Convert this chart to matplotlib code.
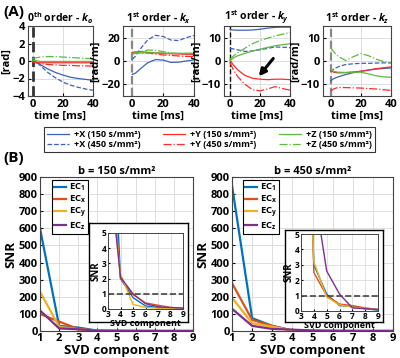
import matplotlib
matplotlib.use('Agg')
import matplotlib.pyplot as plt

plt.rcParams['font.family'] = ['Open Sans', 'DejaVu Sans']
plt.rcParams['font.weight'] = 'bold'
plt.rcParams['axes.labelweight'] = 'bold'
plt.rcParams['axes.titleweight'] = 'bold'
plt.rcParams['mathtext.fontset'] = 'custom'
plt.rcParams['mathtext.rm'] = 'Open Sans:bold'
plt.rcParams['mathtext.bf'] = 'Open Sans:bold'
plt.rcParams['mathtext.it'] = 'Open Sans:bold:italic'
plt.rcParams['xtick.direction'] = 'in'
plt.rcParams['ytick.direction'] = 'in'

# ---- panel A data (time in ms) ----
t = [0, 2, 5, 10, 15, 20, 25, 30, 35, 40]

k0_x150 = [0.1, -0.1, -0.4, -0.9, -1.3, -1.6, -1.85, -2.0, -2.1, -2.2]
k0_x450 = [0.3, 0.0, -0.5, -1.3, -1.9, -2.4, -2.75, -3.0, -3.2, -3.35]
k0_y150 = [-0.05, -0.15, -0.2, -0.2, -0.2, -0.2, -0.2, -0.2, -0.2, -0.2]
k0_y450 = [-0.1, -0.2, -0.3, -0.4, -0.45, -0.5, -0.5, -0.55, -0.55, -0.6]
k0_z150 = [0.1, 0.05, -0.05, -0.05, -0.05, -0.05, -0.05, -0.05, -0.05, -0.05]
k0_z450 = [0.3, 0.35, 0.45, 0.5, 0.5, 0.45, 0.4, 0.35, 0.3, 0.25]

kx_x150 = [-11.5, -10.5, -7, -1.5, 1.2, 0.8, -1.2, -1.0, 0.0, 0.9]
kx_x450 = [1.5, 4, 10, 18, 22, 21, 18, 17.5, 20, 22]
kx_y150 = [7.4, 7.8, 8, 7.5, 7, 6.5, 6.2, 6, 5.8, 5.7]
kx_y450 = [6.6, 6.8, 7, 6.8, 6, 5.2, 4.8, 4.3, 4, 3.7]
kx_z150 = [6.6, 6.8, 7, 7, 7, 6.8, 6.7, 6.6, 6.6, 6.6]
kx_z450 = [5.7, 6.5, 8, 9.4, 9.2, 8, 6.8, 6.4, 6.5, 6.6]

ky_x150 = [13.5, 13.3, 13.2, 13.2, 13.3, 13.6, 14.1, 14.4, 14.5, 14.5]
ky_x450 = [5.4, 5.2, 4.8, 4.1, 4.3, 4.8, 5.4, 6.0, 5.9, 5.7]
ky_y150 = [0.4, -1.5, -3.7, -6.2, -7.4, -7.8, -8.0, -7.8, -7.8, -8.0]
ky_y450 = [-0.7, -3.5, -6.6, -10, -12.3, -12.8, -12.0, -11.0, -11.8, -12.5]
ky_z150 = [0.0, 1.2, 2.2, 3.3, 4.3, 5.1, 5.8, 6.5, 7.0, 7.4]
ky_z450 = [0.7, 2.0, 3.5, 5.5, 7.4, 8.8, 9.8, 10.7, 11.5, 12.2]

kz_x150 = [-8.5, -7.6, -6.8, -5.8, -5.0, -4.4, -3.9, -3.5, -3.2, -3.0]
kz_x450 = [-4.8, -3.5, -2.5, -1.5, -1.2, -1.0, -1.0, -0.9, -0.8, -0.8]
kz_y150 = [-4.0, -4.8, -5.1, -5.0, -4.7, -4.4, -3.9, -3.3, -2.9, -2.5]
kz_y450 = [-13, -12, -11.3, -11.4, -11.5, -11.6, -11.8, -12.0, -12.3, -12.6]
kz_z150 = [-3.8, -4.4, -4.8, -4.9, -4.8, -4.8, -5.5, -6.3, -6.8, -7.0]
kz_z450 = [5.7, 4.0, 2.0, 0.2, 1.8, 3.2, 2.3, 0.8, -0.2, -0.8]

# ---- panel B data ----
svd = [1, 2, 3, 4, 5, 6, 7, 8, 9]
b150_ec1 = [600, 30, 20, 2.0, 0.75, 0.2, 0.1, 0.05, 0.05]
b150_ecx = [100, 55, 12, 2.0, 0.95, 0.4, 0.25, 0.1, 0.05]
b150_ecy = [230, 25, 10, 2.3, 0.3, 0.1, 0.05, 0.05, 0.03]
b150_ecz = [120, 15, 10, 2.1, 1.0, 0.35, 0.15, 0.1, 0.05]

b450_ec1 = [850, 75, 30, 3.0, 1.1, 0.35, 0.3, 0.15, 0.05]
b450_ecx = [280, 65, 30, 2.5, 1.0, 0.45, 0.35, 0.2, 0.1]
b450_ecy = [195, 45, 25, 3.2, 0.9, 0.4, 0.25, 0.15, 0.1]
b450_ecz = [130, 30, 12, 8.0, 2.6, 1.1, 0.2, 0.15, 0.1]

blue, red, green = '#3F5FBF', '#FF2A2A', '#5DBB3F'
ec_colors = ['#0072BD', '#D95319', '#EDB120', '#7E2F8E']
ec_labels = ['EC$_1$', 'EC$_\\mathrm{x}$', 'EC$_\\mathrm{y}$', 'EC$_\\mathrm{z}$']

fig = plt.figure(figsize=(4.0, 3.58), dpi=100)

W, H = 400.0, 358.0
def pos(x0, y0, x1, y1):
    return [x0 / W, 1 - y1 / H, (x1 - x0) / W, (y1 - y0) / H]

top_pos = [pos(28, 26, 93, 96), pos(123, 26, 194, 96),
           pos(224, 26, 290, 96), pos(323, 26, 391, 96)]
top_data = [
    (k0_x150, k0_x450, k0_y150, k0_y450, k0_z150, k0_z450),
    (kx_x150, kx_x450, kx_y150, kx_y450, kx_z150, kx_z450),
    (ky_x150, ky_x450, ky_y150, ky_y450, ky_z150, ky_z450),
    (kz_x150, kz_x450, kz_y150, kz_y450, kz_z150, kz_z450),
]
titles = ['0$^{\\mathrm{th}}$ order - $k_o$', '1$^{\\mathrm{st}}$ order - $k_x$',
          '1$^{\\mathrm{st}}$ order - $k_y$', '1$^{\\mathrm{st}}$ order - $k_z$']
ylims = [(-4, 4), (-30, 30), (-15, 15), (-15, 15)]
yticks = [[-4, -2, 0, 2, 4], [-20, 0, 20], [-10, 0, 10], [-10, 0, 10]]
ylabels = ['[rad]', '[rad/m]', '[rad/m]', '[rad/m]']
xlefts = [-3, -6, -4, -5]
vcol = ['#333333', '#888888', '#111111', '#888888']
vlw = [2.0, 1.6, 1.0, 1.6]

handles = []
for i in range(4):
    ax = fig.add_axes(top_pos[i])
    x150, x450, y150, y450, z150, z450 = top_data[i]
    ax.axvline(0, color=vcol[i], ls='--', lw=vlw[i], zorder=1)
    h1, = ax.plot(t, x150, color=blue, lw=0.9, label='+X (150 s/mm²)')
    h2, = ax.plot(t, x450, color=blue, lw=0.9, ls='--', label='+X (450 s/mm²)')
    h3, = ax.plot(t, y150, color=red, lw=0.9, label='+Y (150 s/mm²)')
    h4, = ax.plot(t, y450, color=red, lw=0.9, ls='-.', label='+Y (450 s/mm²)')
    h5, = ax.plot(t, z150, color=green, lw=0.9, label='+Z (150 s/mm²)')
    h6, = ax.plot(t, z450, color=green, lw=0.9, ls='-.', label='+Z (450 s/mm²)')
    if i == 0:
        handles = [h1, h2, h3, h4, h5, h6]
    ax.set_xlim(xlefts[i], 40)
    ax.set_ylim(*ylims[i])
    ax.set_xticks([0, 20, 40])
    ax.set_yticks(yticks[i])
    ax.grid(True, color='#dddddd', lw=0.7)
    ax.set_axisbelow(True)
    ax.tick_params(labelsize=8, length=2, pad=2)
    for s in ax.spines.values():
        s.set_color('#444444')
        s.set_linewidth(0.8)
    ax.set_xlabel('time [ms]', fontsize=8, labelpad=1)
    ax.set_ylabel(ylabels[i], fontsize=8, labelpad=0)
    ax.set_title(titles[i], fontsize=7.5, pad=3)
    if i == 2:
        ax.annotate('', xy=(18, -7.5), xytext=(30, 2),
                    arrowprops=dict(arrowstyle='-|>', color='black', lw=2.2,
                                    mutation_scale=10))

fig.legend(handles=handles, ncol=3, loc='center',
           bbox_to_anchor=(209.5 / W, 1 - 139.5 / H), fontsize=6.5,
           frameon=True, fancybox=False, edgecolor='black',
           handlelength=2.4, columnspacing=2.5, borderpad=0.3,
           labelspacing=0.15, handletextpad=0.6).get_frame().set_linewidth(0.8)

fig.text(3 / W, 1 - 12 / H, '(A)', fontsize=11, fontweight='bold', va='center')
fig.text(3 / W, 1 - 158 / H, '(B)', fontsize=11, fontweight='bold', va='center')

# ---- panel B ----
bot = [
    (pos(40, 177, 193, 331), 'b = 150 s/mm²',
     [b150_ec1, b150_ecx, b150_ecy, b150_ecz],
     pos(89, 223, 188, 322), pos(108, 233, 183, 309), (52, 180)),
    (pos(232, 177, 393, 331), 'b = 450 s/mm²',
     [b450_ec1, b450_ecx, b450_ecy, b450_ecz],
     pos(285, 230, 383, 322), pos(301, 234, 378, 311), (243, 180)),
]
for mpos, ttl, series, opos, ipos, lg in bot:
    ax = fig.add_axes(mpos)
    for vals, c, lab in zip(series, ec_colors, ec_labels):
        ax.plot(svd, vals, color=c, lw=1.6, label=lab)
    ax.set_xlim(1, 9)
    ax.set_ylim(0, 900)
    ax.set_xticks(range(1, 10))
    ax.set_yticks(range(0, 901, 100))
    ax.grid(True, color='#dddddd', lw=0.7)
    ax.tick_params(labelsize=8, length=2, pad=1.5)
    for s in ax.spines.values():
        s.set_color('#444444')
        s.set_linewidth(0.8)
    ax.set_xlabel('SVD component', fontsize=9.5, labelpad=0)
    ax.set_ylabel('SNR', fontsize=9.5, labelpad=1)
    ax.set_title(ttl, fontsize=8, pad=2)
    leg = ax.legend(loc='upper left', bbox_to_anchor=(lg[0] / W, 1 - lg[1] / H),
                    bbox_transform=fig.transFigure, fontsize=6.8,
                    fancybox=False, edgecolor='black', framealpha=1,
                    handlelength=1.3, borderpad=0.2, labelspacing=0.05,
                    handletextpad=0.3, borderaxespad=0)
    leg.get_frame().set_linewidth(0.8)

    box = fig.add_axes(opos)
    box.set_xticks([])
    box.set_yticks([])
    for s in box.spines.values():
        s.set_color('black')
        s.set_linewidth(1.0)

    ins = fig.add_axes(ipos)
    for vals, c in zip(series, ec_colors):
        ins.plot(svd, vals, color=c, lw=1.0)
    ins.axhline(1, color='#444444', ls='--', lw=1.2)
    ins.set_xlim(3, 9)
    ins.set_ylim(0, 5)
    ins.set_xticks(range(3, 10))
    ins.set_yticks(range(0, 6))
    ins.grid(True, color='#dddddd', lw=0.6)
    ins.tick_params(labelsize=6, length=1.5, pad=1)
    for s in ins.spines.values():
        s.set_color('#444444')
        s.set_linewidth(0.7)
    ins.set_xlabel('SVD component', fontsize=6.5, labelpad=0)
    ins.set_ylabel('SNR', fontsize=7, labelpad=0)

fig.savefig('out.png', dpi=100)
